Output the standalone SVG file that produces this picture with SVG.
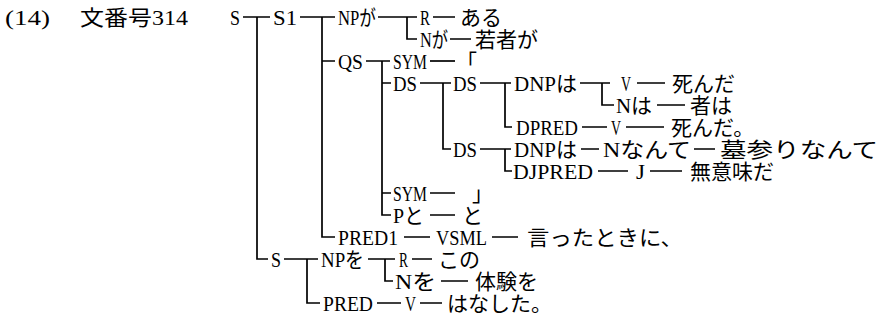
<svg xmlns="http://www.w3.org/2000/svg" width="892" height="327" viewBox="0 0 892 327">
<style>
text{font-family:"Liberation Serif","Noto Sans CJK JP",serif;font-size:21px;fill:#000}
.c{stroke:#000;stroke-width:1.7;fill:none}
</style>
<rect width="892" height="327" fill="#fff"/>
<g id="header">
<text x="5" y="24.5" textLength="45" lengthAdjust="spacingAndGlyphs">(14)</text>
<text x="80" y="24.5" textLength="108" lengthAdjust="spacingAndGlyphs">文番号314</text>
</g>
<g id="connectors" class="c">
<path d="M243 17H270M257 17V259H268"/>
<path d="M300 17H335M322 17V237H335M322 61H335"/>
<path d="M378 17H417M407 17V39H417"/>
<path d="M433 17H455M450 39H471"/>
<path d="M366 61H390M382 61V215H391M382 83H391M382 193H391"/>
<path d="M430 61H455"/>
<path d="M420 83H451M443 83V149H451"/>
<path d="M480 83H511M505 83V127H512"/>
<path d="M580 83H610M602 83V105H614"/>
<path d="M637 83H665M657 105H685"/>
<path d="M582 127H607M626 127H664"/>
<path d="M480 149H511M505 149V171H512"/>
<path d="M581 149H599M694 149H715"/>
<path d="M598 171H628M650 171H682"/>
<path d="M430 193H455M430 215H455"/>
<path d="M404 237H430M492 237H518"/>
<path d="M284 259H318M307 259V303H320"/>
<path d="M368 259H395M385 259V281H393"/>
<path d="M412 259H432M441 281H468"/>
<path d="M377 303H401M420 303H442"/>
</g>
<g id="n-S"><text x="230" y="24.5" textLength="10" lengthAdjust="spacingAndGlyphs">S</text></g>
<g id="n-S1"><text x="273" y="24.5" textLength="24" lengthAdjust="spacingAndGlyphs">S1</text></g>
<g id="n-NPga"><text x="338" y="24.5" textLength="38" lengthAdjust="spacingAndGlyphs">NPが</text></g>
<g id="n-R1"><text x="420" y="24.5" textLength="10" lengthAdjust="spacingAndGlyphs">R</text></g>
<g id="n-aru"><text x="460" y="24.5">ある</text></g>
<g id="n-Nga"><text x="420" y="46.5" textLength="28" lengthAdjust="spacingAndGlyphs">Nが</text></g>
<g id="n-wakamonoga"><text x="475" y="46.5">若者が</text></g>
<g id="n-QS"><text x="338" y="68.5" textLength="25" lengthAdjust="spacingAndGlyphs">QS</text></g>
<g id="n-SYM1"><text x="393" y="68.5" textLength="34" lengthAdjust="spacingAndGlyphs">SYM</text></g>
<g id="n-kakko1"><text x="456" y="68.5">「</text></g>
<g id="n-DS1"><text x="393" y="90.5" textLength="24" lengthAdjust="spacingAndGlyphs">DS</text></g>
<g id="n-DS2"><text x="453" y="90.5" textLength="24" lengthAdjust="spacingAndGlyphs">DS</text></g>
<g id="n-DNPwa1"><text x="514" y="90.5" textLength="63" lengthAdjust="spacingAndGlyphs">DNPは</text></g>
<g id="n-V1"><text x="621" y="90.5" textLength="10" lengthAdjust="spacingAndGlyphs">V</text></g>
<g id="n-shinda1"><text x="672" y="90.5">死んだ</text></g>
<g id="n-Nwa"><text x="616" y="112.5" textLength="36" lengthAdjust="spacingAndGlyphs">Nは</text></g>
<g id="n-monowa"><text x="690" y="112.5">者は</text></g>
<g id="n-DPRED"><text x="516" y="134.5" textLength="62" lengthAdjust="spacingAndGlyphs">DPRED</text></g>
<g id="n-V2"><text x="611" y="134.5" textLength="10" lengthAdjust="spacingAndGlyphs">V</text></g>
<g id="n-shinda2"><text x="671" y="134.5">死んだ。</text></g>
<g id="n-DS3"><text x="453" y="156.5" textLength="24" lengthAdjust="spacingAndGlyphs">DS</text></g>
<g id="n-DNPwa2"><text x="514" y="156.5" textLength="63" lengthAdjust="spacingAndGlyphs">DNPは</text></g>
<g id="n-Nnante"><text x="603" y="156.5" textLength="88" lengthAdjust="spacingAndGlyphs">Nなんて</text></g>
<g id="n-hakamairi"><text x="720" y="156.5" textLength="158" lengthAdjust="spacingAndGlyphs">墓参りなんて</text></g>
<g id="n-DJPRED"><text x="513" y="178.5" textLength="80" lengthAdjust="spacingAndGlyphs">DJPRED</text></g>
<g id="n-J"><text x="636" y="178.5" textLength="9" lengthAdjust="spacingAndGlyphs">J</text></g>
<g id="n-muimida"><text x="690" y="178.5">無意味だ</text></g>
<g id="n-SYM2"><text x="393" y="200.5" textLength="34" lengthAdjust="spacingAndGlyphs">SYM</text></g>
<g id="n-kakko2"><text x="472" y="200.5">」</text></g>
<g id="n-Pto"><text x="393" y="222.5" textLength="31" lengthAdjust="spacingAndGlyphs">Pと</text></g>
<g id="n-to"><text x="462" y="222.5">と</text></g>
<g id="n-PRED1"><text x="338" y="244.5" textLength="60" lengthAdjust="spacingAndGlyphs">PRED1</text></g>
<g id="n-VSML"><text x="436" y="244.5" textLength="51" lengthAdjust="spacingAndGlyphs">VSML</text></g>
<g id="n-itta"><text x="527" y="244.5" textLength="156" lengthAdjust="spacingAndGlyphs">言ったときに、</text></g>
<g id="n-S2"><text x="271" y="266.5" textLength="10" lengthAdjust="spacingAndGlyphs">S</text></g>
<g id="n-NPwo"><text x="321" y="266.5" textLength="43" lengthAdjust="spacingAndGlyphs">NPを</text></g>
<g id="n-R2"><text x="399" y="266.5" textLength="9" lengthAdjust="spacingAndGlyphs">R</text></g>
<g id="n-kono"><text x="438" y="266.5">この</text></g>
<g id="n-Nwo"><text x="395" y="288.5" textLength="41" lengthAdjust="spacingAndGlyphs">Nを</text></g>
<g id="n-taiken"><text x="475" y="288.5">体験を</text></g>
<g id="n-PRED"><text x="323" y="310.5" textLength="50" lengthAdjust="spacingAndGlyphs">PRED</text></g>
<g id="n-V3"><text x="405" y="310.5" textLength="11" lengthAdjust="spacingAndGlyphs">V</text></g>
<g id="n-hanashita"><text x="447" y="310.5">はなした。</text></g>
</svg>
